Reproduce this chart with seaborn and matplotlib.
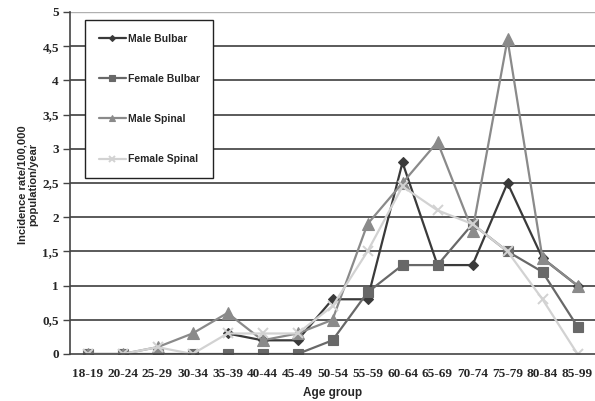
import numpy as np
import pandas as pd
import matplotlib
matplotlib.use("Agg")
import matplotlib.pyplot as plt
import seaborn as sns

age_groups = ["18-19", "20-24", "25-29", "30-34", "35-39", "40-44", "45-49", "50-54",
              "55-59", "60-64", "65-69", "70-74", "75-79", "80-84", "85-99"]
male_bulbar = [np.nan, np.nan, np.nan, np.nan, 0.3, 0.2, 0.2, 0.8, 0.8, 2.8, 1.3, 1.3, 2.5, 1.4, 1.0]
female_bulbar = [0, 0, 0, 0, 0, 0, 0, 0.2, 0.9, 1.3, 1.3, 1.9, 1.5, 1.2, 0.4]
male_spinal = [0, 0, 0.1, 0.3, 0.6, 0.2, 0.3, 0.5, 1.9, 2.5, 3.1, 1.8, 4.6, 1.4, 1.0]
female_spinal = [0, 0, 0.1, 0, 0.3, 0.3, 0.3, 0.7, 1.5, 2.45, 2.1, 1.9, 1.5, 0.8, 0]
series_names = ["Male Bulbar", "Female Bulbar", "Male Spinal", "Female Spinal"]

frames = []
for name, vals in zip(series_names, [male_bulbar, female_bulbar, male_spinal, female_spinal]):
    frames.append(pd.DataFrame({"pos": np.arange(len(age_groups)), "rate": vals, "series": name}))
df = pd.concat(frames, ignore_index=True).dropna()

colors = {"Male Bulbar": "#3a3a3a", "Female Bulbar": "#686868",
          "Male Spinal": "#8a8a8a", "Female Spinal": "#d2d2d2"}
markers = {"Male Bulbar": "D", "Female Bulbar": "s", "Male Spinal": "^", "Female Spinal": "x"}
msizes = {"Male Bulbar": 5.5, "Female Bulbar": 7.5, "Male Spinal": 8, "Female Spinal": 7.5}

sns.set_style("white")
serif = ["Liberation Serif", "DejaVu Serif"]
sans = ["Liberation Sans", "DejaVu Sans"]

fig = plt.figure(figsize=(5.95, 4.01), dpi=100)
ax = fig.add_axes([70 / 595, 1 - 354 / 401, 525 / 595, 342 / 401])

for y in np.arange(0.5, 5.01, 0.5):
    ax.axhline(y, color="#5a5a5a" if y < 5 else "#b0b0b0", lw=1.4 if y < 5 else 1.0, zorder=0)

for name in series_names:
    sub = df[df["series"] == name]
    sns.lineplot(data=sub, x="pos", y="rate", ax=ax, color=colors[name], lw=1.6,
                 marker=markers[name], markersize=msizes[name],
                 markeredgecolor=colors[name], markeredgewidth=1.4 if name == "Female Spinal" else 0.8,
                 label=name, legend=False)

ax.set_xlim(-0.5, len(age_groups) - 0.5)
ax.set_ylim(0, 5)
ax.set_xticks(np.arange(len(age_groups)))
ax.set_xticklabels(age_groups, fontfamily=serif, fontweight="bold", fontsize=9.5)
ax.set_xticks(np.arange(-0.5, len(age_groups) - 0.4, 1), minor=True)
ax.tick_params(axis="x", which="major", length=0, pad=10)
ax.tick_params(axis="x", which="minor", length=4, width=1, color="#444", direction="out")
ax.set_yticks(np.arange(0, 5.01, 0.5))
ax.set_yticklabels([f"{v:g}".replace(".", ",") for v in np.arange(0, 5.01, 0.5)],
                   fontfamily=serif, fontweight="bold", fontsize=9.5)
ax.tick_params(axis="y", length=5, width=1, color="#444", direction="out", left=True, pad=3)

for s in ["top", "right"]:
    ax.spines[s].set_visible(False)
for s in ["left", "bottom"]:
    ax.spines[s].set_color("#444")
    ax.spines[s].set_linewidth(1.2)

ax.set_xlabel("Age group", fontfamily=sans, fontweight="bold", fontsize=8.5, labelpad=5)
ax.set_ylabel("Incidence rate/100,000\npopulation/year", fontfamily=sans, fontweight="bold",
              fontsize=8, linespacing=1.1)
ax.yaxis.set_label_coords(-0.06, 0.495)

handles, labels = ax.get_legend_handles_labels()
leg = ax.legend(handles, labels, loc="upper left", bbox_to_anchor=(15 / 525, 1 - 8 / 342),
                frameon=True, fancybox=False, edgecolor="#222", framealpha=1,
                prop={"family": sans, "weight": "bold", "size": 7.5},
                labelspacing=2.9, handlelength=2.6, handletextpad=0.2, borderpad=1.3,
                borderaxespad=0, markerscale=0.55)
leg.get_frame().set_linewidth(1.0)

fig.savefig("out.png", dpi=100)
